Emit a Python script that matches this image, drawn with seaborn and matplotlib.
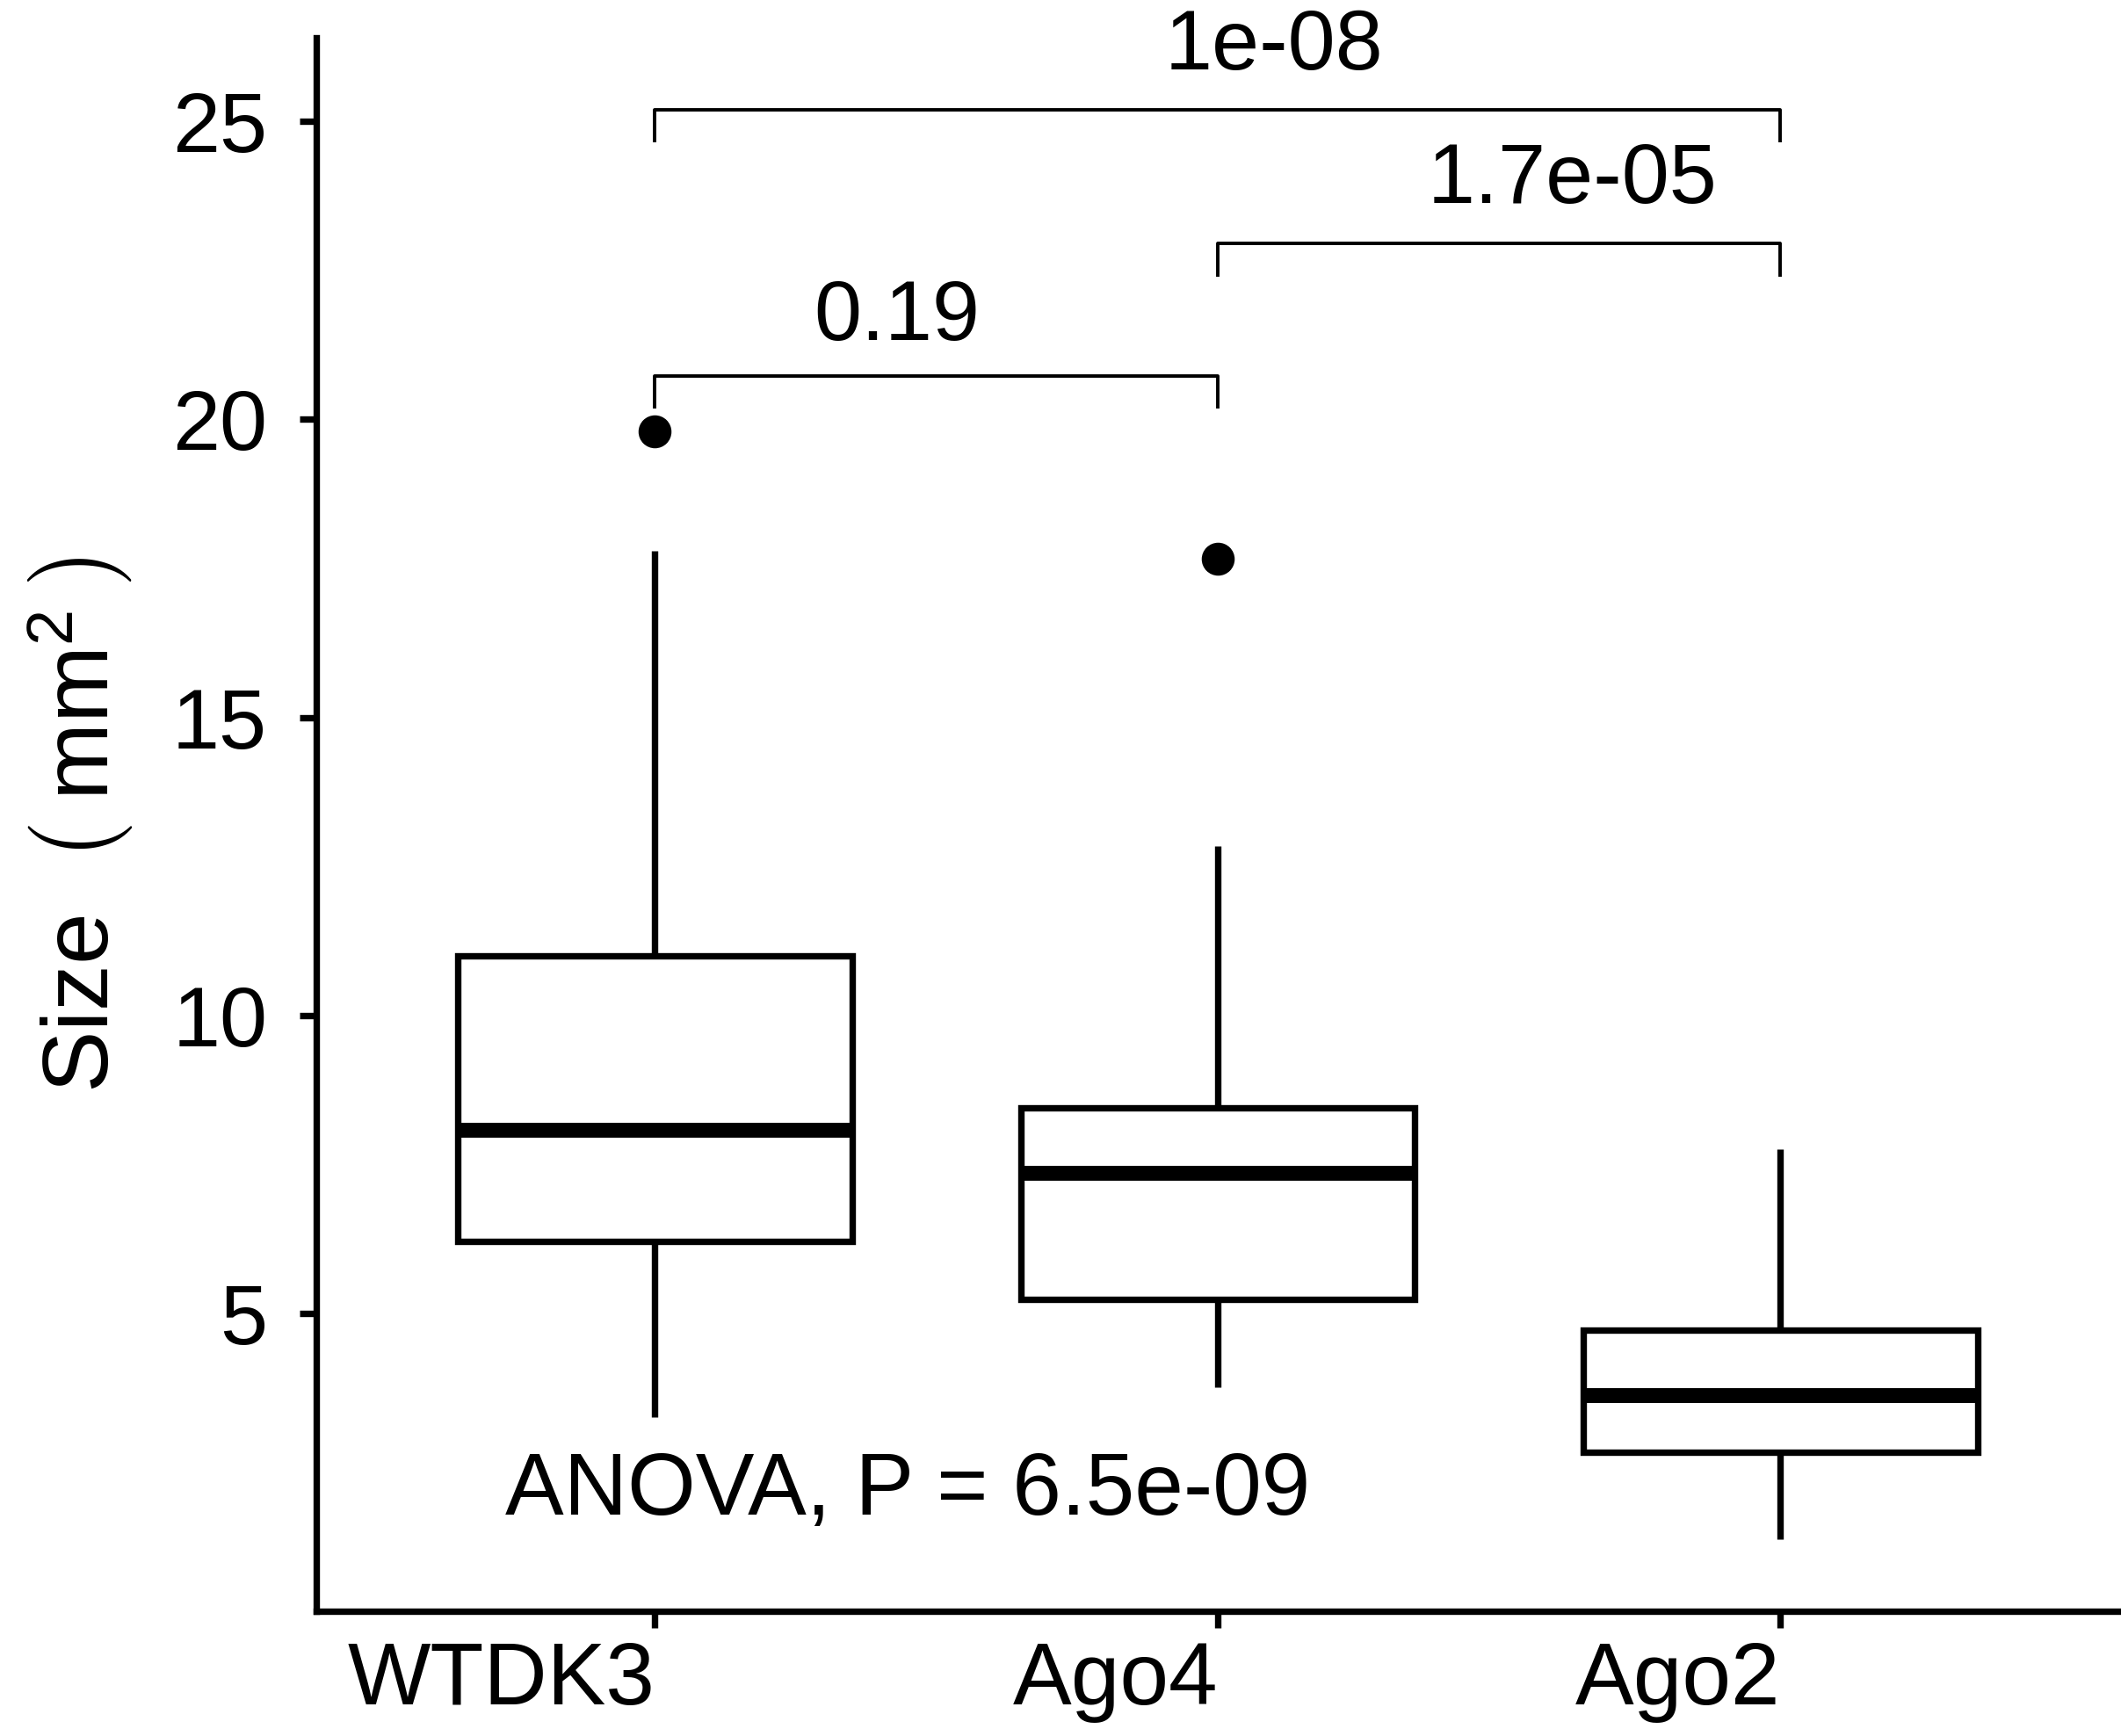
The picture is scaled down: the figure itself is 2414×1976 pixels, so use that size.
import pandas as pd
import seaborn as sns
import matplotlib.pyplot as plt

# ------------------------------------------------------------------------------
# Data
# ------------------------------------------------------------------------------
groups = ["WTDK3", "Ago4", "Ago2"]
whisker_low = [3.25, 3.75, 1.21]
q1 = [6.2, 5.23, 2.66]
median = [8.07, 7.36, 3.62]
q3 = [11.0, 8.44, 4.71]
whisker_high = [17.8, 12.84, 7.76]
outliers = [[19.8], [17.66], []]

# pairwise comparisons: (group a, group b, bracket height, label)
pair_a = [0, 1, 0]
pair_b = [1, 2, 2]
bracket_y = [20.73, 22.95, 25.2]
pair_labels = ["0.19", "1.7e-05", "1e-08"]
label_x = [0.43, 1.63, 1.1]
label_y = [21.7, 24.0, 26.25]

anova_label = "ANOVA, P = 6.5e-09"

# rebuild a small sample per group whose quartiles match the summary stats
rows = []
for i, g in enumerate(groups):
    vals = [whisker_low[i], q1[i], q1[i], median[i], median[i],
            q3[i], q3[i], whisker_high[i]] + outliers[i]
    rows += [{"Group": g, "Size": v} for v in vals]
df = pd.DataFrame(rows)

# ------------------------------------------------------------------------------
# Plot
# ------------------------------------------------------------------------------
sns.set_theme(style="white")
plt.rcParams['font.family'] = ['Liberation Sans', 'DejaVu Sans']
plt.rcParams['text.color'] = 'black'
plt.rcParams['axes.labelcolor'] = 'black'
plt.rcParams['mathtext.fontset'] = 'custom'
plt.rcParams['mathtext.rm'] = 'Liberation Sans'
plt.rcParams['mathtext.it'] = 'Liberation Sans:italic'

lw = 5.3
fig = plt.figure(figsize=(24.14, 19.76), dpi=100)
ax = fig.add_axes([0.149, 0.072, 0.851, 0.906])

sns.boxplot(data=df, x="Group", y="Size", order=groups, ax=ax,
            width=0.7, color="white", linecolor="black", linewidth=lw,
            showcaps=False, whis=1.5,
            medianprops=dict(linewidth=lw * 2.3, color="black"),
            flierprops=dict(marker="o", markerfacecolor="black",
                            markeredgecolor="black", markersize=26))

# significance brackets
tip = 0.55
for a, b, y, lab, tx, ty in zip(pair_a, pair_b, bracket_y, pair_labels,
                                label_x, label_y):
    ax.plot([a, a, b, b], [y - tip, y, y, y - tip], color="black",
            lw=2.8, solid_capstyle="butt", clip_on=False)
    ax.text(tx, ty, lab, ha="center", va="center", fontsize=70, color="black")

ax.text(0.45, 2.0, anova_label, ha="center", va="center", fontsize=72,
        color="black")

ax.set_xlim(-0.602, 2.605)
ax.set_ylim(0, 26.4)
ax.set_yticks([5, 10, 15, 20, 25])
ax.set_xlabel("")
ax.set_ylabel(r"Size  $\left(\;\mathrm{mm}^{2}_{\;}\;\right)$", fontsize=76,
              labelpad=30)

sns.despine(ax=ax)
for s in ["left", "bottom"]:
    ax.spines[s].set_linewidth(lw)
    ax.spines[s].set_color("black")
ax.tick_params(axis="both", which="major", length=14, width=lw,
               color="black", labelcolor="black", left=True, bottom=True)
ax.tick_params(axis="y", labelsize=70, pad=26)
ax.tick_params(axis="x", labelsize=72, pad=10)
for lab in ax.get_xticklabels():
    lab.set_horizontalalignment("right")

plt.savefig("out.png", dpi=100)
plt.close()
